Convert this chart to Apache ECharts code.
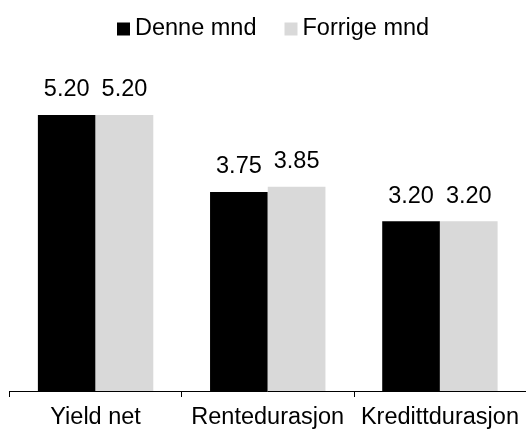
<!DOCTYPE html>
<html>
<head>
<meta charset="utf-8">
<script src="https://cdn.jsdelivr.net/npm/echarts@6/dist/echarts.min.js"></script>
<style>html,body{margin:0;padding:0;background:#fff}#c{width:526px;height:430px}</style>
</head>
<body>
<div id="c"></div>
<script>
const categories = ['Yield net', 'Rentedurasjon', 'Kredittdurasjon'];
const denneMnd = [5.20, 3.75, 3.20];
const forrigeMnd = [5.20, 3.85, 3.20];
const seriesNames = ['Denne mnd', 'Forrige mnd'];

const FONT = '"Liberation Sans", Arial, sans-serif';
const FS = 23.5;
const chart = echarts.init(document.getElementById('c'), null, {renderer: 'canvas'});
const labelCfg = {
  show: true, position: 'top', distance: 13,
  fontFamily: FONT, fontSize: FS, color: '#000',
  formatter: p => p.value.toFixed(2)
};
chart.setOption({
  animation: false,
  legend: {
    left: 112, top: 12,
    itemWidth: 13, itemHeight: 13, itemGap: 28,
    icon: 'rect',
    textStyle: {fontFamily: FONT, fontSize: FS, color: '#000'},
    data: seriesNames
  },
  grid: {left: 9.5, width: 521, top: 72.5, bottom: 39, containLabel: false},
  xAxis: {
    type: 'category', data: categories,
    axisLine: {lineStyle: {color: '#000', width: 1}},
    axisTick: {show: true, length: 6, lineStyle: {color: '#000'}},
    axisLabel: {interval: 0, margin: 15, fontFamily: FONT, fontSize: FS, color: '#000'}
  },
  yAxis: {type: 'value', min: 0, max: 6, show: false, splitLine: {show: false}},
  series: [
    {name: seriesNames[0], type: 'bar', data: denneMnd, barWidth: 57.7, barGap: '0%',
     itemStyle: {color: '#000000'}, label: labelCfg},
    {name: seriesNames[1], type: 'bar', data: forrigeMnd, barWidth: 57.7, barGap: '0%',
     itemStyle: {color: '#d9d9d9'}, label: labelCfg}
  ]
});
</script>
</body>
</html>
